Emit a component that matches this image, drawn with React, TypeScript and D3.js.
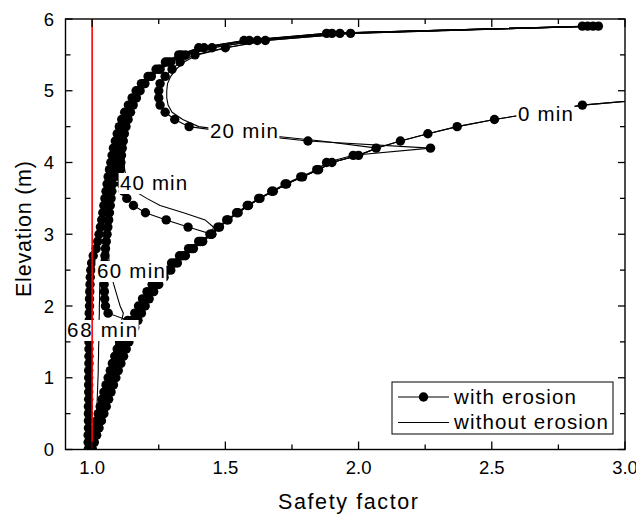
import React from 'react';
import * as d3 from 'd3';

// ---------- data ----------
const elevation = [
  0.0, 0.1, 0.2, 0.3, 0.4, 0.5, 0.6, 0.7, 0.8, 0.9,
  1.0, 1.1, 1.2, 1.3, 1.4, 1.5, 1.6, 1.7, 1.8, 1.9,
  2.0, 2.1, 2.2, 2.3, 2.4, 2.5, 2.6, 2.7, 2.8, 2.9,
  3.0, 3.1, 3.2, 3.3, 3.4, 3.5, 3.6, 3.7, 3.8, 3.9,
  4.0, 4.1, 4.2, 4.3, 4.4, 4.5, 4.6, 4.7, 4.8, 4.9,
  5.0, 5.1, 5.2, 5.3, 5.4, 5.5, 5.6, 5.7, 5.8, 5.9,
];

const sf0min = [
  1.000, 1.008, 1.017, 1.026, 1.035, 1.044, 1.053, 1.062, 1.071, 1.080,
  1.089, 1.098, 1.108, 1.118, 1.128, 1.138, 1.149, 1.160, 1.172, 1.185,
  1.199, 1.214, 1.231, 1.250, 1.270, 1.295, 1.320, 1.350, 1.380, 1.415,
  1.449, 1.478, 1.510, 1.548, 1.587, 1.630, 1.680, 1.730, 1.790, 1.850,
  1.900, 2.000, 2.066, 2.157, 2.260, 2.370, 2.510, 2.680, 2.840, 3.150,
];

const sf20Erosion = [
  1.000, 1.006, 1.013, 1.021, 1.029, 1.037, 1.045, 1.053, 1.061, 1.069,
  1.078, 1.087, 1.096, 1.106, 1.116, 1.126, 1.137, 1.148, 1.160, 1.173,
  1.187, 1.202, 1.219, 1.238, 1.259, 1.284, 1.310, 1.340, 1.372, 1.407,
  1.442, 1.472, 1.505, 1.542, 1.582, 1.625, 1.674, 1.724, 1.783, 1.843,
  1.880, 1.980, 2.270, 1.810, 1.560, 1.364, 1.310, 1.274, 1.255, 1.250,
  1.250, 1.255, 1.274, 1.300, 1.330, 1.386, 1.500, 1.650, 1.970, 2.900,
];
const sf20NoErosion = [
  1.000, 1.008, 1.017, 1.026, 1.035, 1.044, 1.053, 1.062, 1.071, 1.080,
  1.089, 1.098, 1.108, 1.118, 1.128, 1.138, 1.149, 1.160, 1.172, 1.185,
  1.199, 1.214, 1.231, 1.250, 1.270, 1.295, 1.320, 1.350, 1.380, 1.415,
  1.449, 1.478, 1.510, 1.548, 1.587, 1.630, 1.680, 1.730, 1.790, 1.850,
  1.900, 2.000, 2.070, 1.860, 1.600, 1.400, 1.340, 1.300, 1.285, 1.280,
  1.280, 1.283, 1.295, 1.315, 1.345, 1.395, 1.505, 1.655, 1.970, 2.900,
];

const sf40Erosion = [
  1.000, 1.004, 1.010, 1.017, 1.024, 1.031, 1.038, 1.046, 1.054, 1.062,
  1.070, 1.078, 1.087, 1.096, 1.105, 1.115, 1.125, 1.136, 1.148, 1.160,
  1.174, 1.189, 1.206, 1.225, 1.246, 1.271, 1.298, 1.328, 1.362, 1.400,
  1.449, 1.360, 1.278, 1.200, 1.155, 1.130, 1.117, 1.110, 1.106, 1.106,
  1.108, 1.110, 1.113, 1.117, 1.121, 1.127, 1.135, 1.144, 1.154, 1.166,
  1.180, 1.198, 1.222, 1.255, 1.295, 1.350, 1.450, 1.620, 1.930, 2.880,
];
const sf40NoErosion = [
  1.000, 1.006, 1.014, 1.022, 1.030, 1.039, 1.048, 1.057, 1.066, 1.075,
  1.084, 1.093, 1.103, 1.113, 1.123, 1.133, 1.144, 1.155, 1.167, 1.180,
  1.194, 1.209, 1.226, 1.245, 1.265, 1.290, 1.315, 1.345, 1.375, 1.410,
  1.449, 1.455, 1.424, 1.343, 1.255, 1.205, 1.160, 1.140, 1.128, 1.122,
  1.120, 1.121, 1.123, 1.127, 1.131, 1.136, 1.142, 1.150, 1.159, 1.170,
  1.184, 1.202, 1.226, 1.258, 1.298, 1.352, 1.452, 1.622, 1.930, 2.880,
];

const sf60Erosion = [
  0.998, 1.002, 1.006, 1.011, 1.017, 1.023, 1.030, 1.037, 1.044, 1.052,
  1.060, 1.068, 1.076, 1.085, 1.094, 1.103, 1.113, 1.123, 1.134, 1.060,
  1.050, 1.047, 1.046, 1.045, 1.045, 1.046, 1.047, 1.048, 1.050, 1.053,
  1.056, 1.059, 1.062, 1.065, 1.068, 1.071, 1.074, 1.077, 1.081, 1.085,
  1.089, 1.093, 1.097, 1.103, 1.109, 1.116, 1.124, 1.134, 1.146, 1.160,
  1.176, 1.195, 1.220, 1.250, 1.285, 1.335, 1.420, 1.590, 1.900, 2.860,
];
const sf60NoErosion = [
  1.000, 1.005, 1.010, 1.015, 1.020, 1.026, 1.032, 1.038, 1.044, 1.050,
  1.056, 1.063, 1.070, 1.077, 1.084, 1.091, 1.098, 1.105, 1.111, 1.117,
  1.105, 1.097, 1.089, 1.081, 1.074, 1.068, 1.064, 1.062, 1.062, 1.062,
  1.063, 1.065, 1.068, 1.071, 1.074, 1.077, 1.080, 1.083, 1.087, 1.091,
  1.095, 1.099, 1.103, 1.108, 1.114, 1.121, 1.129, 1.139, 1.151, 1.165,
  1.181, 1.200, 1.225, 1.254, 1.289, 1.338, 1.422, 1.592, 1.900, 2.860,
];

const sf68Erosion = [
  0.985, 0.985, 0.985, 0.986, 0.986, 0.986, 0.986, 0.987, 0.987, 0.987,
  0.987, 0.987, 0.988, 0.988, 0.988, 0.988, 0.988, 0.989, 0.989, 0.989,
  0.990, 0.990, 0.991, 0.992, 0.993, 0.995, 0.998, 1.004, 1.015, 1.021,
  1.026, 1.031, 1.036, 1.040, 1.044, 1.048, 1.052, 1.056, 1.060, 1.065,
  1.070, 1.075, 1.080, 1.087, 1.094, 1.102, 1.111, 1.122, 1.136, 1.150,
  1.165, 1.185, 1.210, 1.240, 1.275, 1.325, 1.400, 1.570, 1.880, 2.840,
];
const sf68NoErosion = [
  1.000, 1.006, 1.010, 1.013, 1.015, 1.017, 1.018, 1.019, 1.020, 1.021,
  1.022, 1.023, 1.023, 1.024, 1.024, 1.025, 1.025, 1.026, 1.026, 1.027,
  1.027, 1.028, 1.028, 1.029, 1.030, 1.031, 1.033, 1.036, 1.040, 1.043,
  1.046, 1.049, 1.052, 1.055, 1.058, 1.061, 1.064, 1.067, 1.070, 1.074,
  1.078, 1.082, 1.086, 1.092, 1.098, 1.106, 1.115, 1.126, 1.139, 1.153,
  1.168, 1.188, 1.213, 1.243, 1.278, 1.328, 1.403, 1.572, 1.880, 2.840,
];

const timeLabels = ['0 min', '20 min', '40 min', '60 min', '68 min'];
const labelSF = [2.598, 1.442, 1.105, 1.018, 0.906];
const labelElev = [4.578, 4.341, 3.617, 2.390, 1.568];
const labelWidths = [55, 68, 67, 68, 70];

const xMajorTicks = [1.0, 1.5, 2.0, 2.5, 3.0];
const xTickLabels = ['1.0', '1.5', '2.0', '2.5', '3.0'];
const xMinorTicks = [1.25, 1.75, 2.25, 2.75];
const yMajorTicks = [0, 1, 2, 3, 4, 5, 6];
const yMinorTicks = [0.5, 1.5, 2.5, 3.5, 4.5, 5.5];

const legendLabels = ['with erosion', 'without erosion'];

export default function App() {
  const L = 65.5, R = 625, T = 19, B = 449.5;
  const x = d3.scaleLinear().domain([0.9, 3.0]).range([L, R]);
  const y = d3.scaleLinear().domain([0, 6]).range([B, T]);
  const line = d3.line<[number, number]>().x(d => x(d[0])).y(d => y(d[1]));
  const pts = (sf: number[]) => sf.map((v, i) => [v, elevation[i]] as [number, number]);

  const erosion = [sf0min, sf20Erosion, sf40Erosion, sf60Erosion, sf68Erosion];
  const noErosion = [sf0min, sf20NoErosion, sf40NoErosion, sf60NoErosion, sf68NoErosion];
  const font = 'Liberation Sans, Arial, sans-serif';
  const r = 4.7;

  return (
    <svg width={636} height={515} style={{ position: 'absolute', left: 0, top: 0, background: '#fff' }}
      xmlns="http://www.w3.org/2000/svg">
      <defs>
        <clipPath id="plot">
          <rect x={L} y={T} width={R - L} height={B - T} />
        </clipPath>
      </defs>
      <rect x={0} y={0} width={636} height={515} fill="#fff" />
      <g clipPath="url(#plot)">
        {noErosion.map((s, i) => (
          <path key={'n' + i} d={line(pts(s)) || ''} fill="none" stroke="#000" strokeWidth={1.1} />
        ))}
        {erosion.map((s, i) => (
          <g key={'e' + i}>
            <path d={line(pts(s)) || ''} fill="none" stroke="#000" strokeWidth={1.1} />
            {pts(s).map((p, j) => (
              <circle key={j} cx={x(p[0])} cy={y(p[1])} r={r} fill="#000" />
            ))}
          </g>
        ))}
      </g>
      {/* time labels */}
      {timeLabels.map((t, i) => {
        const lx = x(labelSF[i]);
        const ly = y(labelElev[i]);
        return (
          <g key={t}>
            <rect x={lx - 1.5} y={ly - 17} width={labelWidths[i] + 3} height={21} fill="#fff" />
            <text x={lx} y={ly} fontFamily={font} fontSize={20.5} textLength={labelWidths[i]}
              lengthAdjust="spacing" fill="#000">{t}</text>
          </g>
        );
      })}
      {/* red SF = 1 line */}
      <line x1={x(1.0)} x2={x(1.0)} y1={T} y2={B} stroke="#ff0000" strokeWidth={1.6} />
      {/* frame */}
      <rect x={L} y={T} width={R - L} height={B - T} fill="none" stroke="#000" strokeWidth={1.4} />
      {/* ticks */}
      {xMajorTicks.map(v => (
        <g key={'xm' + v}>
          <line x1={x(v)} x2={x(v)} y1={B} y2={B - 8} stroke="#000" strokeWidth={1.3} />
          <line x1={x(v)} x2={x(v)} y1={T} y2={T + 8} stroke="#000" strokeWidth={1.3} />
        </g>
      ))}
      {xMinorTicks.map(v => (
        <g key={'xn' + v}>
          <line x1={x(v)} x2={x(v)} y1={B} y2={B - 5} stroke="#000" strokeWidth={1.3} />
          <line x1={x(v)} x2={x(v)} y1={T} y2={T + 5} stroke="#000" strokeWidth={1.3} />
        </g>
      ))}
      {yMajorTicks.map(v => (
        <g key={'ym' + v}>
          <line x1={L} x2={L + 7} y1={y(v)} y2={y(v)} stroke="#000" strokeWidth={1.3} />
          <line x1={R} x2={R - 7} y1={y(v)} y2={y(v)} stroke="#000" strokeWidth={1.3} />
        </g>
      ))}
      {yMinorTicks.map(v => (
        <g key={'yn' + v}>
          <line x1={L} x2={L + 5} y1={y(v)} y2={y(v)} stroke="#000" strokeWidth={1.3} />
          <line x1={R} x2={R - 5} y1={y(v)} y2={y(v)} stroke="#000" strokeWidth={1.3} />
        </g>
      ))}
      {xMajorTicks.map((v, i) => (
        <text key={'xl' + v} x={x(v)} y={473.5} textAnchor="middle" fontFamily={font} fontSize={18.5}
          fill="#000">{xTickLabels[i]}</text>
      ))}
      {yMajorTicks.map(v => (
        <text key={'yl' + v} x={54} y={y(v)} dy="0.36em" textAnchor="end" fontFamily={font}
          fontSize={18.5} fill="#000">{String(v)}</text>
      ))}
      {/* axis titles */}
      <text x={278} y={509} fontFamily={font} fontSize={21.5} textLength={140} lengthAdjust="spacing"
        fill="#000">Safety factor</text>
      <text transform={`translate(31,${229 + 68}) rotate(-90)`} x={0} y={0} fontFamily={font}
        fontSize={21.5} textLength={136} lengthAdjust="spacing" fill="#000">Elevation (m)</text>
      {/* legend */}
      <rect x={392} y={382} width={221} height={52} fill="#fff" stroke="#000" strokeWidth={1} />
      <line x1={398} x2={449} y1={397} y2={397} stroke="#000" strokeWidth={1.1} />
      <circle cx={423.5} cy={397} r={r} fill="#000" />
      <text x={454} y={403.5} fontFamily={font} fontSize={20.5} textLength={122} lengthAdjust="spacing"
        fill="#000">{legendLabels[0]}</text>
      <line x1={398} x2={449} y1={422.5} y2={422.5} stroke="#000" strokeWidth={1.1} />
      <text x={454} y={429} fontFamily={font} fontSize={20.5} textLength={154} lengthAdjust="spacing"
        fill="#000">{legendLabels[1]}</text>
    </svg>
  );
}
